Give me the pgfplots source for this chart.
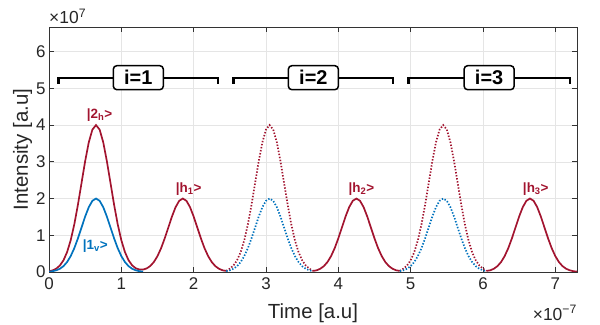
\documentclass[border=0pt]{standalone}
\usepackage{fontspec}
\setmainfont{Liberation Sans}
\usepackage{pgfplots}
\pgfplotsset{compat=1.18}
\definecolor{mred}{rgb}{0.635,0.078,0.184}
\definecolor{mblue}{rgb}{0,0.447,0.741}
\begin{document}
\begin{tikzpicture}
\begin{axis}[
    name=ax,
    at={(49bp,53bp)}, anchor=south west,
    scale only axis, width=528bp, height=245bp,
    xmin=0, xmax=7.3, ymin=0, ymax=6.67,
    xtick={0,...,7}, ytick={0,...,6},
    grid=major,
    grid style={color=black!10, line width=0.5bp},
    axis line style={color=black!80, line width=0.7bp},
    tick align=inside, major tick length=5bp,
    tick style={color=black!80, line width=0.7bp},
    ticklabel style={font=\fontsize{17}{17}\selectfont, color=black!85},
    xticklabel style={yshift=-2.5bp},
    /pgf/number format/assume math mode=true,
    xlabel={Time [a.u]}, ylabel={Intensity [a.u]},
    label style={font=\fontsize{20.5}{20.5}\selectfont, color=black!85},
    xlabel style={at={(axis description cs:0.5,-0.17)}, anchor=center},
    ylabel style={at={(axis description cs:-0.05,0.5)}, anchor=center},
]

% red, solid: |2h> and |h1>
\addplot[mred, line width=1.7bp] coordinates {
    (0,0.020) (0.05,0.044) (0.10,0.091) (0.15,0.176) (0.20,0.318) (0.25,0.541)
    (0.30,0.865) (0.35,1.299) (0.40,1.831) (0.45,2.426) (0.50,3.019) (0.55,3.530)
    (0.60,3.877) (0.65,4.000) (0.70,3.877) (0.75,3.530) (0.80,3.019) (0.85,2.426)
    (0.90,1.831) (0.95,1.299) (1.00,0.865) (1.05,0.542) (1.10,0.320) (1.15,0.180)
    (1.20,0.101) (1.25,0.067) (1.30,0.066) (1.35,0.097) (1.40,0.163) (1.45,0.272)
    (1.50,0.433) (1.55,0.649) (1.60,0.916) (1.65,1.213) (1.70,1.510) (1.75,1.765)
    (1.80,1.938) (1.85,2.000) (1.90,1.938) (1.95,1.765) (2.00,1.510) (2.05,1.213)
    (2.10,0.916) (2.15,0.649) (2.20,0.433) (2.25,0.271) (2.30,0.159) (2.35,0.088)
    (2.40,0.046) (2.45,0.030)
};
% red, solid: |h2>
\addplot[mred, line width=1.7bp] coordinates {
    (3.65,0.030) (3.70,0.046) (3.75,0.088) (3.80,0.159) (3.85,0.271) (3.90,0.433)
    (3.95,0.649) (4.00,0.916) (4.05,1.213) (4.10,1.510) (4.15,1.765) (4.20,1.938)
    (4.25,2.000) (4.30,1.938) (4.35,1.765) (4.40,1.510) (4.45,1.213) (4.50,0.916)
    (4.55,0.649) (4.60,0.433) (4.65,0.271) (4.70,0.159) (4.75,0.088) (4.80,0.046)
    (4.85,0.030)
};
% red, solid: |h3>
\addplot[mred, line width=1.7bp] coordinates {
    (6.05,0.030) (6.10,0.046) (6.15,0.088) (6.20,0.159) (6.25,0.271) (6.30,0.433)
    (6.35,0.649) (6.40,0.916) (6.45,1.213) (6.50,1.510) (6.55,1.765) (6.60,1.938)
    (6.65,2.000) (6.70,1.938) (6.75,1.765) (6.80,1.510) (6.85,1.213) (6.90,0.916)
    (6.95,0.649) (7.00,0.433) (7.05,0.271) (7.10,0.159) (7.15,0.088) (7.20,0.046)
    (7.25,0.022) (7.30,0.010)
};
% red, dotted
\addplot[mred, line width=1.7bp, dash pattern=on 1.4bp off 1.7bp] coordinates {
    (2.45,0.030) (2.50,0.091) (2.55,0.176) (2.60,0.318) (2.65,0.541) (2.70,0.865)
    (2.75,1.299) (2.80,1.831) (2.85,2.426) (2.90,3.019) (2.95,3.530) (3.00,3.877)
    (3.05,4.000) (3.10,3.877) (3.15,3.530) (3.20,3.019) (3.25,2.426) (3.30,1.831)
    (3.35,1.299) (3.40,0.865) (3.45,0.541) (3.50,0.318) (3.55,0.176) (3.60,0.091)
    (3.65,0.030)
};
\addplot[mred, line width=1.7bp, dash pattern=on 1.4bp off 1.7bp] coordinates {
    (4.85,0.030) (4.90,0.091) (4.95,0.176) (5.00,0.318) (5.05,0.541) (5.10,0.865)
    (5.15,1.299) (5.20,1.831) (5.25,2.426) (5.30,3.019) (5.35,3.530) (5.40,3.877)
    (5.45,4.000) (5.50,3.877) (5.55,3.530) (5.60,3.019) (5.65,2.426) (5.70,1.831)
    (5.75,1.299) (5.80,0.865) (5.85,0.541) (5.90,0.318) (5.95,0.176) (6.00,0.091)
    (6.05,0.030)
};
% blue, solid: |1v>
\addplot[mblue, line width=1.7bp] coordinates {
    (0,0.010) (0.05,0.022) (0.10,0.046) (0.15,0.088) (0.20,0.159) (0.25,0.271)
    (0.30,0.433) (0.35,0.649) (0.40,0.916) (0.45,1.213) (0.50,1.510) (0.55,1.765)
    (0.60,1.938) (0.65,2.000) (0.70,1.938) (0.75,1.765) (0.80,1.510) (0.85,1.213)
    (0.90,0.916) (0.95,0.649) (1.00,0.433) (1.05,0.271) (1.10,0.159) (1.15,0.088)
    (1.20,0.046) (1.25,0.022) (1.30,0.010)
};
% blue, dotted
\addplot[mblue, line width=1.7bp, dash pattern=on 1.4bp off 1.7bp] coordinates {
    (2.45,0.022) (2.50,0.046) (2.55,0.088) (2.60,0.159) (2.65,0.271) (2.70,0.433)
    (2.75,0.649) (2.80,0.916) (2.85,1.213) (2.90,1.510) (2.95,1.765) (3.00,1.938)
    (3.05,2.000) (3.10,1.938) (3.15,1.765) (3.20,1.510) (3.25,1.213) (3.30,0.916)
    (3.35,0.649) (3.40,0.433) (3.45,0.271) (3.50,0.159) (3.55,0.088) (3.60,0.046)
    (3.65,0.022)
};
\addplot[mblue, line width=1.7bp, dash pattern=on 1.4bp off 1.7bp] coordinates {
    (4.85,0.022) (4.90,0.046) (4.95,0.088) (5.00,0.159) (5.05,0.271) (5.10,0.433)
    (5.15,0.649) (5.20,0.916) (5.25,1.213) (5.30,1.510) (5.35,1.765) (5.40,1.938)
    (5.45,2.000) (5.50,1.938) (5.55,1.765) (5.60,1.510) (5.65,1.213) (5.70,0.916)
    (5.75,0.649) (5.80,0.433) (5.85,0.271) (5.90,0.159) (5.95,0.088) (6.00,0.046)
    (6.05,0.022)
};

% brackets
\tikzset{ibox/.style={draw, fill=white, rounded corners=3.5bp, line width=1.5bp,
    minimum width=50bp, minimum height=24bp, inner sep=0pt,
    font=\fontsize{20}{20}\selectfont\bfseries}}
\draw[line width=2.2bp] (axis cs:0.13,5.13) -- (axis cs:0.13,5.29) -- (axis cs:2.34,5.29) -- (axis cs:2.34,5.13);
\draw[line width=2.2bp] (axis cs:2.55,5.13) -- (axis cs:2.55,5.29) -- (axis cs:4.76,5.29) -- (axis cs:4.76,5.13);
\draw[line width=2.2bp] (axis cs:4.97,5.13) -- (axis cs:4.97,5.29) -- (axis cs:7.20,5.29) -- (axis cs:7.20,5.13);
\node[ibox] at (axis cs:1.235,5.29) {i=1};
\node[ibox] at (axis cs:3.655,5.29) {i=2};
\node[ibox] at (axis cs:6.085,5.29) {i=3};

% state labels
\tikzset{slab/.style={anchor=base, font=\fontsize{13.5}{13.5}\selectfont\bfseries}}
\node[slab, text=mred] at (axis cs:0.70,4.18) {|2\textsubscript{h}>};
\node[slab, text=mred] at (axis cs:1.93,2.17) {|h\textsubscript{1}>};
\node[slab, text=mred] at (axis cs:4.32,2.17) {|h\textsubscript{2}>};
\node[slab, text=mred] at (axis cs:6.73,2.17) {|h\textsubscript{3}>};
\node[slab, text=mblue] at (axis cs:0.64,0.62) {|1\textsubscript{v}>};
\end{axis}
\node[anchor=base west, inner sep=0pt, color=black!85, font=\fontsize{17.5}{17.5}\selectfont]
    at ([yshift=3.5bp]ax.north west) {×10\textsuperscript{7}};
\node[anchor=base east, inner sep=0pt, color=black!85, font=\fontsize{17.5}{17.5}\selectfont]
    at ([yshift=-48bp]ax.south east) {×10\textsuperscript{−7}};
\pgfresetboundingbox
\path[use as bounding box] (0,0) rectangle (600bp,325bp);
\end{tikzpicture}
\end{document}
